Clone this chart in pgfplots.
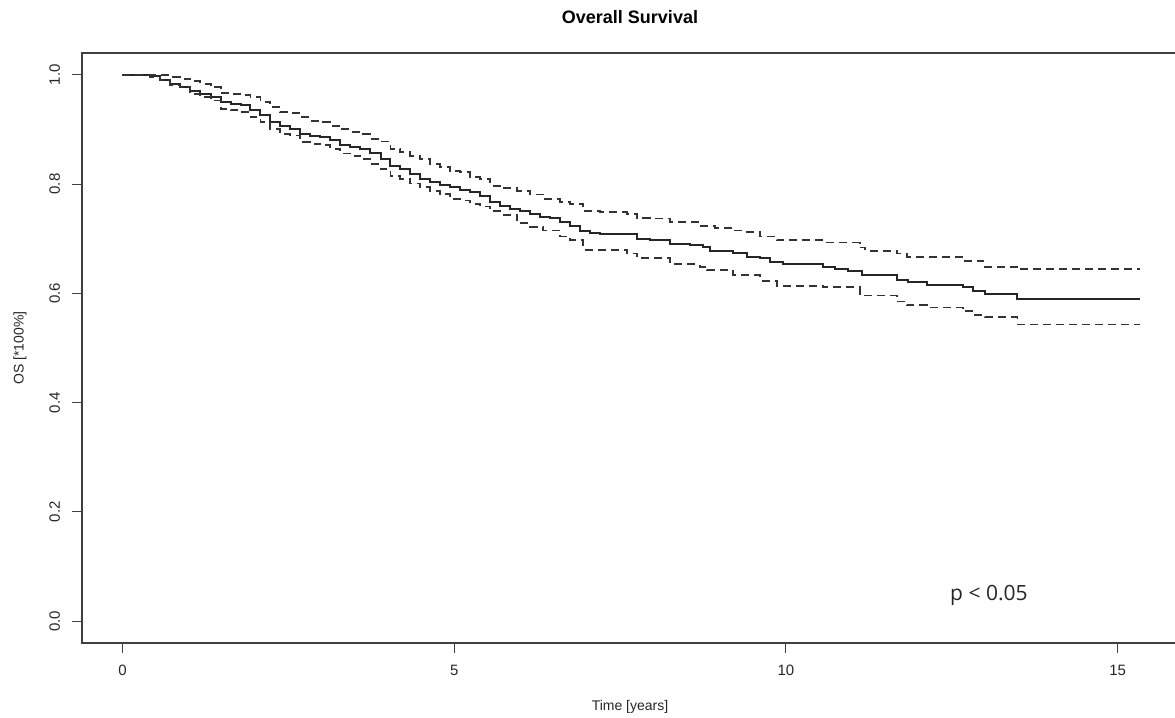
\documentclass[border=0pt]{standalone}
\usepackage{pgfplots}
\pgfplotsset{compat=1.18}
\usepackage{fontspec}
\setmainfont{Liberation Sans}
\newfontfamily\opensans{Open Sans}

% Kaplan-Meier estimate and 95% band (time in years)
\pgfplotstableread{
t s
0 1.000
0.42 0.997
0.57 0.991
0.72 0.984
0.87 0.977
1.02 0.971
1.17 0.965
1.33 0.959
1.48 0.951
1.63 0.947
1.78 0.944
1.93 0.935
2.08 0.926
2.23 0.914
2.38 0.907
2.53 0.901
2.68 0.892
2.83 0.888
2.98 0.886
3.13 0.880
3.28 0.872
3.43 0.868
3.58 0.865
3.73 0.856
3.89 0.846
4.04 0.834
4.19 0.828
4.34 0.819
4.49 0.810
4.64 0.804
4.79 0.798
4.94 0.795
5.09 0.790
5.24 0.786
5.39 0.779
5.54 0.768
5.69 0.760
5.84 0.755
5.99 0.751
6.14 0.746
6.30 0.740
6.45 0.737
6.60 0.731
6.75 0.724
6.90 0.715
7.05 0.711
7.20 0.709
7.76 0.700
7.95 0.697
8.25 0.691
8.56 0.688
8.75 0.685
8.86 0.678
9.20 0.673
9.41 0.667
9.61 0.665
9.76 0.658
9.95 0.653
10.56 0.649
10.74 0.645
10.93 0.641
11.14 0.634
11.67 0.625
11.84 0.621
12.12 0.616
12.67 0.611
12.82 0.605
13.00 0.598
13.49 0.590
15.33 0.590
}\kmtab

\pgfplotstableread{
t s
0 1.000
0.57 0.999
0.72 0.996
0.87 0.993
1.02 0.989
1.17 0.984
1.33 0.978
1.48 0.967
1.63 0.965
1.78 0.963
1.93 0.959
2.08 0.951
2.23 0.941
2.38 0.932
2.53 0.930
2.68 0.923
2.83 0.916
2.98 0.914
3.13 0.907
3.28 0.901
3.43 0.896
3.58 0.892
3.73 0.883
3.89 0.878
4.04 0.865
4.19 0.859
4.34 0.852
4.49 0.846
4.64 0.837
4.79 0.832
4.94 0.824
5.09 0.822
5.24 0.813
5.39 0.810
5.54 0.797
5.69 0.793
5.95 0.788
6.14 0.781
6.34 0.773
6.60 0.768
6.75 0.764
6.94 0.751
7.20 0.749
7.61 0.746
7.76 0.738
7.95 0.737
8.25 0.731
8.70 0.724
8.93 0.720
9.20 0.715
9.38 0.713
9.61 0.704
9.86 0.697
10.56 0.693
11.11 0.684
11.19 0.678
11.67 0.673
11.82 0.667
12.67 0.660
12.97 0.649
13.48 0.644
15.33 0.644
}\uptab

\pgfplotstableread{
t s
0 1.000
0.42 0.995
0.57 0.990
0.72 0.982
0.87 0.978
1.02 0.965
1.17 0.959
1.33 0.953
1.48 0.938
1.63 0.935
1.78 0.932
1.93 0.923
2.08 0.914
2.23 0.901
2.38 0.892
2.53 0.889
2.68 0.877
2.83 0.874
2.98 0.871
3.13 0.865
3.28 0.856
3.43 0.852
3.58 0.846
3.73 0.837
3.89 0.828
4.04 0.814
4.19 0.810
4.34 0.801
4.49 0.795
4.64 0.788
4.79 0.782
4.94 0.773
5.09 0.770
5.24 0.764
5.39 0.759
5.54 0.751
5.69 0.744
5.95 0.728
6.14 0.722
6.34 0.715
6.60 0.704
6.75 0.697
6.94 0.680
7.61 0.673
7.76 0.664
8.25 0.654
8.70 0.649
8.81 0.642
9.20 0.633
9.61 0.623
9.86 0.614
10.56 0.611
11.11 0.596
11.67 0.585
11.82 0.578
12.12 0.574
12.67 0.567
12.82 0.560
13.00 0.556
13.49 0.543
15.33 0.543
}\lowtab

\begin{document}
\begin{tikzpicture}
\begin{axis}[
    scale only axis,
    width=548pt,
    height=295pt,
    xmin=-0.61, xmax=15.91,
    ymin=-0.04, ymax=1.04,
    xtick={0,5,10,15},
    ytick={0,0.2,0.4,0.6,0.8,1.0},
    yticklabel style={rotate=90, /pgf/number format/fixed, /pgf/number format/fixed zerofill, /pgf/number format/precision=1},
    tick label style={font=\fontsize{7.5}{9}\selectfont, text=black!85},
    /pgf/number format/assume math mode=true,
    tick align=outside,
    major tick length=5pt,
    xtick pos=bottom, ytick pos=left,
    xticklabel shift=2.5pt,
    yticklabel shift=2.5pt,
    xlabel shift=5.5pt,
    ylabel shift=4.5pt,
    axis line style={black!75, line width=0.7pt},
    tick style={black!75, line width=0.5pt},
    title={Overall Survival},
    title style={font=\fontsize{9}{11}\selectfont\bfseries, anchor=base, yshift=8.5pt},
    xlabel={Time [years]},
    ylabel={OS [*100\%]},
    label style={font=\fontsize{7}{9}\selectfont, text=black!85},
    clip=false,
]
\addplot[const plot, black!85, line width=1pt] table[x=t, y=s] {\kmtab};
\addplot[const plot, black!80, line width=0.95pt, dash pattern=on 4pt off 2.5pt] table[x=t, y=s] {\uptab};
\addplot[const plot, black!80, line width=0.95pt, dash pattern=on 4pt off 2.5pt] table[x=t, y=s] {\lowtab};
\node[font=\opensans\fontsize{10.5}{12}\selectfont, text=black!85] at (axis cs:13.06,0.048) {p < 0.05};
\coordinate (bbsw) at (rel axis cs:-0.0748,-0.1271);
\coordinate (bbne) at (rel axis cs:0.99726,1.0898);
\end{axis}
\pgfresetboundingbox
\useasboundingbox (bbsw) rectangle (bbne);
\end{tikzpicture}
\end{document}
